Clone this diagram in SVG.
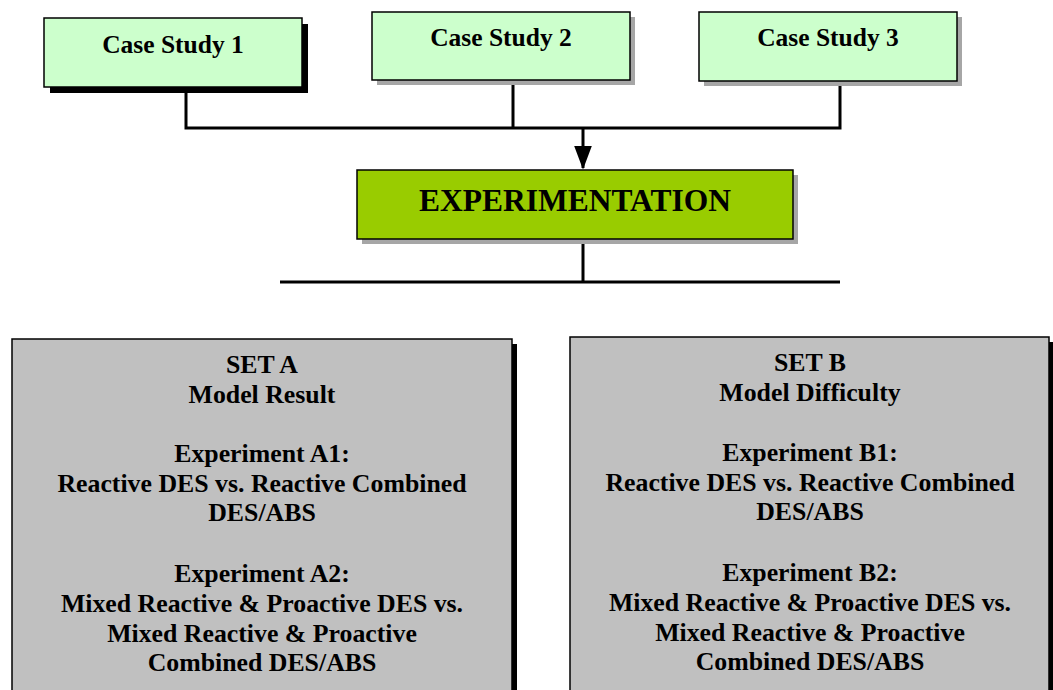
<svg xmlns="http://www.w3.org/2000/svg" width="1053" height="690" viewBox="0 0 1053 690">
  <style>
    .case { fill: #CCFFCC; stroke: #000; stroke-width: 1.5; }
    .exp { fill: #99CC00; stroke: #000; stroke-width: 1.5; }
    .set { fill: #C0C0C0; stroke: #000; stroke-width: 1.5; }
    .sh-dark { fill: #000; }
    .sh-grey { fill: #A6A6A6; }
    .lbl { font-family: "Liberation Serif", "Times New Roman", serif; font-weight: bold; fill: #000; text-anchor: middle; }
    .t21 { font-size: 25.5px; }
    .t27 { font-size: 31.5px; }
    .t23 { font-size: 25.8px; }
    .wire { fill: none; stroke: #000; stroke-width: 3; }
  </style>
  <defs>
    <marker id="arrow" markerWidth="8" markerHeight="6" refX="7.5" refY="3" orient="auto" markerUnits="strokeWidth">
      <path d="M0,0 L8,3 L0,6 Z" fill="#000"/>
    </marker>
  </defs>
  <rect width="1053" height="690" fill="#fff"/>

  <g id="connectors">
    <path class="wire" d="M186,87 V128 M513,80 V128 M840,81 V128 M184.5,128 H841.5"/>
    <path class="wire" d="M583,128 V168" marker-end="url(#arrow)"/>
    <path class="wire" d="M583,239 V283 M280,282 H840"/>
  </g>

  <g id="case-study-1">
    <rect class="sh-dark" x="50" y="24" width="258" height="69"/>
    <rect class="case" x="44" y="18" width="258" height="69"/>
    <text class="lbl t21" x="173" y="53">Case Study 1</text>
  </g>

  <g id="case-study-2">
    <rect class="sh-grey" x="377" y="17" width="258" height="68"/>
    <rect class="case" x="372" y="12" width="258" height="68"/>
    <text class="lbl t21" x="501" y="46">Case Study 2</text>
  </g>

  <g id="case-study-3">
    <rect class="sh-grey" x="704" y="17" width="258" height="69"/>
    <rect class="case" x="699" y="12" width="258" height="69"/>
    <text class="lbl t21" x="828" y="46">Case Study 3</text>
  </g>

  <g id="experimentation">
    <rect class="sh-grey" x="362" y="175" width="436" height="69"/>
    <rect class="exp" x="357" y="170" width="436" height="69"/>
    <text class="lbl t27" x="575" y="211">EXPERIMENTATION</text>
  </g>

  <g id="set-a">
    <rect class="sh-dark" x="17" y="344" width="500" height="350"/>
    <rect class="set" x="12" y="339" width="500" height="355"/>
    <text class="lbl t23" x="262" y="373">SET A</text>
    <text class="lbl t23" x="262" y="403">Model Result</text>
    <text class="lbl t23" x="262" y="462">Experiment A1:</text>
    <text class="lbl t23" x="262" y="492">Reactive DES vs. Reactive Combined</text>
    <text class="lbl t23" x="262" y="521">DES/ABS</text>
    <text class="lbl t23" x="262" y="582">Experiment A2:</text>
    <text class="lbl t23" x="262" y="612">Mixed Reactive &amp; Proactive DES vs.</text>
    <text class="lbl t23" x="262" y="642">Mixed Reactive &amp; Proactive</text>
    <text class="lbl t23" x="262" y="671">Combined DES/ABS</text>
  </g>

  <g id="set-b">
    <rect class="sh-dark" x="575" y="342" width="478" height="352"/>
    <rect class="set" x="570" y="337" width="479" height="357"/>
    <text class="lbl t23" x="810" y="371">SET B</text>
    <text class="lbl t23" x="810" y="401">Model Difficulty</text>
    <text class="lbl t23" x="810" y="461">Experiment B1:</text>
    <text class="lbl t23" x="810" y="491">Reactive DES vs. Reactive Combined</text>
    <text class="lbl t23" x="810" y="520">DES/ABS</text>
    <text class="lbl t23" x="810" y="581">Experiment B2:</text>
    <text class="lbl t23" x="810" y="611">Mixed Reactive &amp; Proactive DES vs.</text>
    <text class="lbl t23" x="810" y="641">Mixed Reactive &amp; Proactive</text>
    <text class="lbl t23" x="810" y="670">Combined DES/ABS</text>
  </g>
</svg>
